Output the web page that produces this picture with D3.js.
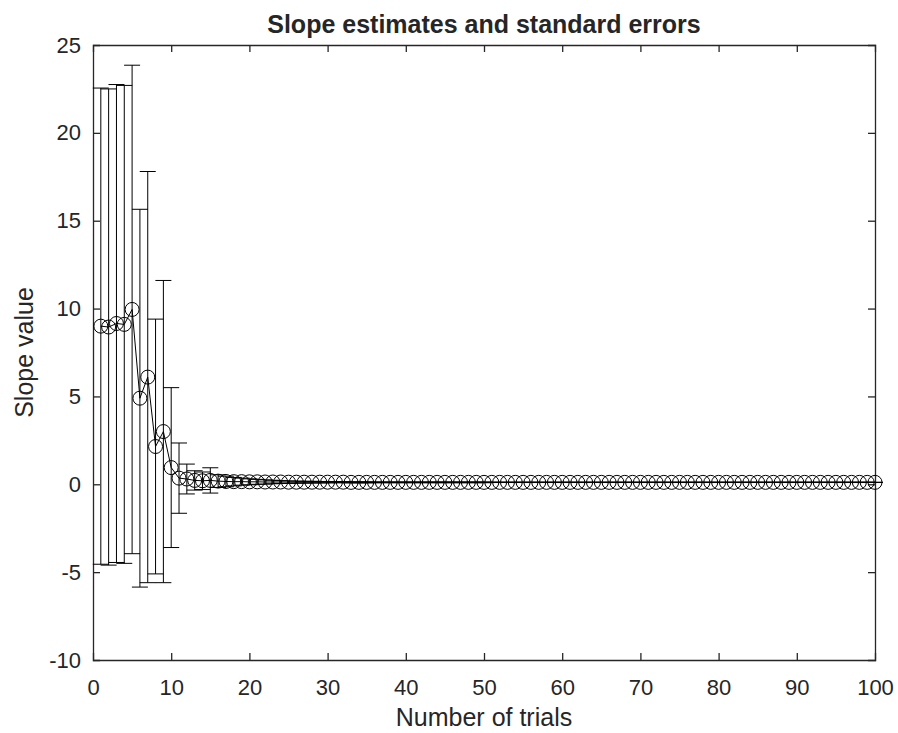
<!DOCTYPE html>
<html lang="en">
<head>
<meta charset="utf-8">
<title>Slope estimates and standard errors</title>
<script src="https://d3js.org/d3.v7.min.js"></script>
<style>
  * { margin:0; padding:0; box-sizing:border-box; }
  body { background:#fff; font-family:'Liberation Sans', Arial, Helvetica, sans-serif; }
  svg text { fill:#262626; }
  .axis path, .axis line { stroke:#262626; }
</style>
</head>
<body>
<svg id="chart" width="898" height="733"></svg>
<script>
// ─── Data ───
const trials = d3.range(1, 101);

const slope = [
  9.0, 8.95, 9.15, 9.1, 9.95, 4.9, 6.1, 2.15, 3.0, 0.95,
  0.35, 0.3, 0.22, 0.2, 0.22, 0.18, 0.16, 0.15, 0.15, 0.14,
  0.14, 0.13, 0.13, 0.13, 0.12, 0.12, 0.12, 0.12, 0.12, 0.12,
  0.12, 0.12, 0.11, 0.11, 0.11, 0.11, 0.11, 0.11, 0.11, 0.11,
  0.11, 0.11, 0.11, 0.11, 0.11, 0.11, 0.11, 0.11, 0.11, 0.11,
  0.11, 0.11, 0.11, 0.11, 0.11, 0.11, 0.11, 0.11, 0.11, 0.11,
  0.11, 0.11, 0.11, 0.11, 0.11, 0.11, 0.11, 0.11, 0.11, 0.11,
  0.11, 0.11, 0.11, 0.11, 0.11, 0.11, 0.11, 0.11, 0.11, 0.11,
  0.11, 0.11, 0.11, 0.11, 0.11, 0.11, 0.11, 0.11, 0.11, 0.11,
  0.11, 0.11, 0.11, 0.11, 0.11, 0.11, 0.11, 0.11, 0.11, 0.11
];

const stderr = [
  13.55, 13.55, 13.6, 13.6, 13.9, 10.75, 11.7, 7.25, 8.6, 4.55,
  2.0, 0.85, 0.55, 0.5, 0.72, 0.36, 0.3, 0.24, 0.2, 0.17,
  0.14, 0.12, 0.1, 0.08, 0.07, 0.06, 0.05, 0.05, 0.04, 0.04,
  0.03, 0.03, 0.03, 0.03, 0.03, 0.02, 0.02, 0.02, 0.02, 0.02,
  0.02, 0.02, 0.02, 0.02, 0.02, 0.02, 0.02, 0.02, 0.02, 0.02,
  0.01, 0.01, 0.01, 0.01, 0.01, 0.01, 0.01, 0.01, 0.01, 0.01,
  0.01, 0.01, 0.01, 0.01, 0.01, 0.01, 0.01, 0.01, 0.01, 0.01,
  0.01, 0.01, 0.01, 0.01, 0.01, 0.01, 0.01, 0.01, 0.01, 0.01,
  0.01, 0.01, 0.01, 0.01, 0.01, 0.01, 0.01, 0.01, 0.01, 0.01,
  0.01, 0.01, 0.01, 0.01, 0.01, 0.01, 0.01, 0.01, 0.01, 0.01
];

const xTicks = [0, 10, 20, 30, 40, 50, 60, 70, 80, 90, 100];
const yTicks = [-10, -5, 0, 5, 10, 15, 20, 25];

const titleText = 'Slope estimates and standard errors';
const xLabel = 'Number of trials';
const yLabel = 'Slope value';

// ─── Layout ───
const W = 898, H = 733;
const m = { top: 45, right: 23, bottom: 73, left: 93 };
const iw = W - m.left - m.right;
const ih = H - m.top - m.bottom;

const svg = d3.select('#chart');
const g = svg.append('g').attr('transform', `translate(${m.left},${m.top})`);

const x = d3.scaleLinear().domain([0, 100]).range([0, iw]);
const y = d3.scaleLinear().domain([-10, 25]).range([ih, 0]);

const data = trials.map((t, i) => ({ t, v: slope[i], e: stderr[i] }));

// ─── Axes (MATLAB-like box, inward ticks) ───
const tickLen = 7;
const fs = 22;
const plain = d => String(d);   // hyphen minus like the original

const xb = g.append('g').attr('class', 'axis').attr('transform', `translate(0,${ih})`)
  .call(d3.axisBottom(x).tickValues(xTicks).tickSize(-tickLen).tickPadding(19).tickFormat(plain));
const xt = g.append('g').attr('class', 'axis')
  .call(d3.axisTop(x).tickValues(xTicks).tickSize(-tickLen).tickFormat(''));
const yl = g.append('g').attr('class', 'axis')
  .call(d3.axisLeft(y).tickValues(yTicks).tickSize(-tickLen).tickPadding(12).tickFormat(plain));
const yr = g.append('g').attr('class', 'axis').attr('transform', `translate(${iw},0)`)
  .call(d3.axisRight(y).tickValues(yTicks).tickSize(-tickLen).tickFormat(''));

[xb, xt, yl, yr].forEach(a => {
  a.select('.domain').attr('stroke-width', 1.3);
  a.selectAll('.tick line').attr('stroke-width', 1.3);
  a.selectAll('text').attr('font-size', fs).attr('font-family', "'Liberation Sans', Arial, sans-serif").attr('fill', '#262626');
});
// no tick marks at the box corners
xb.selectAll('.tick').filter(d => d === 0 || d === 100).select('line').remove();
xt.selectAll('.tick').filter(d => d === 0 || d === 100).select('line').remove();
yl.selectAll('.tick').filter(d => d === -10 || d === 25).select('line').remove();
yr.selectAll('.tick').filter(d => d === -10 || d === 25).select('line').remove();

// ─── Error bars ───
const cap = 8;
const eb = g.append('g').attr('stroke', '#000').attr('stroke-width', 1).attr('fill', 'none');
eb.selectAll('line.v').data(data).join('line').attr('class', 'v')
  .attr('x1', d => x(d.t)).attr('x2', d => x(d.t))
  .attr('y1', d => y(d.v + d.e)).attr('y2', d => y(d.v - d.e));
eb.selectAll('line.top').data(data).join('line').attr('class', 'top')
  .attr('x1', d => x(d.t) - cap).attr('x2', d => x(d.t) + cap)
  .attr('y1', d => y(d.v + d.e)).attr('y2', d => y(d.v + d.e));
eb.selectAll('line.bot').data(data).join('line').attr('class', 'bot')
  .attr('x1', d => x(d.t) - cap).attr('x2', d => x(d.t) + cap)
  .attr('y1', d => y(d.v - d.e)).attr('y2', d => y(d.v - d.e));

// ─── Line + markers ───
g.append('path').datum(data)
  .attr('fill', 'none').attr('stroke', '#000').attr('stroke-width', 1)
  .attr('d', d3.line().x(d => x(d.t)).y(d => y(d.v)));

g.append('g').selectAll('circle').data(data).join('circle')
  .attr('cx', d => x(d.t)).attr('cy', d => y(d.v)).attr('r', 7)
  .attr('fill', 'none').attr('stroke', '#000').attr('stroke-width', 1);

// ─── Labels ───
svg.append('text').attr('x', m.left + iw / 2).attr('y', 33)
  .attr('text-anchor', 'middle').attr('font-size', 25).attr('font-weight', 'bold')
  .attr('fill', '#000').text(titleText);

svg.append('text').attr('x', m.left + iw / 2).attr('y', 726)
  .attr('text-anchor', 'middle').attr('font-size', 25).text(xLabel);

svg.append('text').attr('transform', `translate(33,${m.top + ih / 2}) rotate(-90)`)
  .attr('text-anchor', 'middle').attr('font-size', 25).text(yLabel);
</script>
</body>
</html>
